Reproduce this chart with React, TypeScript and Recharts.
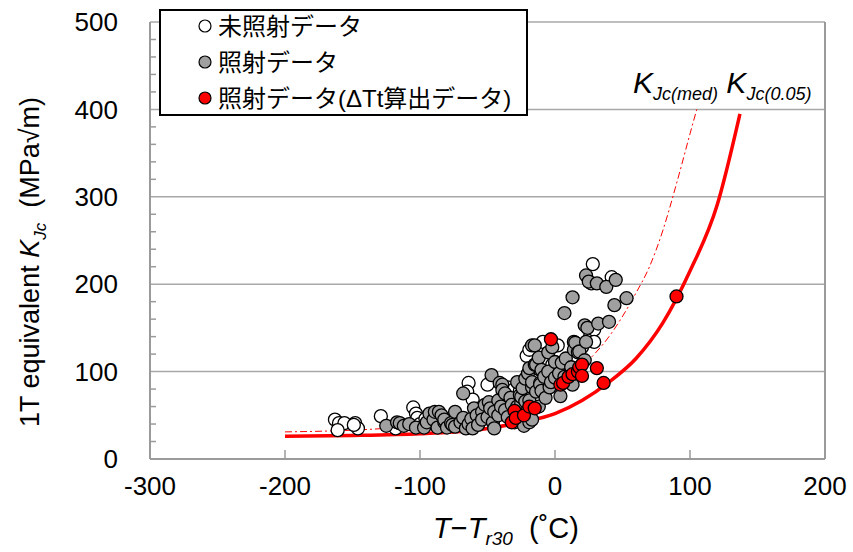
import { ComposedChart, Line, Scatter, XAxis, YAxis, CartesianGrid } from 'recharts'

// 未照射データ
const unirradiated = [
  { x: -163, y: 45 }, { x: -160, y: 41 }, { x: -156, y: 41 }, { x: -161, y: 33 }, { x: -148, y: 41 },
  { x: -146, y: 35 }, { x: -149, y: 39 }, { x: -129, y: 49 }, { x: -118, y: 35 }, { x: -105, y: 59 },
  { x: -103, y: 52 }, { x: -102, y: 47 }, { x: -100, y: 40 }, { x: -96, y: 46 }, { x: -90, y: 40 },
  { x: -78, y: 44 }, { x: -73, y: 50 }, { x: -64, y: 87 }, { x: -65, y: 77 }, { x: -61, y: 68 },
  { x: -56, y: 58 }, { x: -50, y: 85 }, { x: -44, y: 62 }, { x: -35, y: 82 }, { x: -31, y: 79 },
  { x: -26, y: 78 }, { x: -21, y: 118 }, { x: -19, y: 125 }, { x: -13, y: 70 }, { x: -11, y: 102 },
  { x: -9, y: 134 }, { x: -6, y: 95 }, { x: -2, y: 108 }, { x: 2, y: 130 }, { x: 20, y: 128 },
  { x: 26, y: 140 }, { x: 27, y: 201 }, { x: 28, y: 223 }, { x: 29, y: 148 }, { x: 29, y: 134 },
  { x: 42, y: 208 },
]

// 照射データ
const irradiated = [
  { x: -125, y: 38 }, { x: -117, y: 42 }, { x: -115, y: 41 }, { x: -112, y: 38 }, { x: -108, y: 40 },
  { x: -103, y: 36 }, { x: -97, y: 36 }, { x: -95, y: 42 }, { x: -93, y: 52 }, { x: -90, y: 45 },
  { x: -89, y: 54 }, { x: -87, y: 36 }, { x: -86, y: 54 }, { x: -84, y: 50 }, { x: -82, y: 42 },
  { x: -82, y: 45 }, { x: -80, y: 36 }, { x: -77, y: 41 }, { x: -76, y: 39 }, { x: -74, y: 37 },
  { x: -74, y: 54 }, { x: -70, y: 42 }, { x: -68, y: 47 }, { x: -68, y: 75 }, { x: -66, y: 35 },
  { x: -64, y: 40 }, { x: -62, y: 46 }, { x: -61, y: 35 }, { x: -60, y: 58 }, { x: -58, y: 50 },
  { x: -57, y: 39 }, { x: -54, y: 54 }, { x: -54, y: 45 }, { x: -52, y: 62 }, { x: -50, y: 48 },
  { x: -49, y: 65 }, { x: -48, y: 58 }, { x: -47, y: 96 }, { x: -46, y: 42 }, { x: -45, y: 54 },
  { x: -45, y: 35 }, { x: -42, y: 67 }, { x: -42, y: 50 }, { x: -41, y: 87 }, { x: -40, y: 60 },
  { x: -39, y: 85 }, { x: -39, y: 79 }, { x: -37, y: 75 }, { x: -37, y: 56 }, { x: -35, y: 48 },
  { x: -33, y: 70 }, { x: -32, y: 62 }, { x: -30, y: 42 }, { x: -28, y: 60 }, { x: -28, y: 88 },
  { x: -26, y: 73 }, { x: -26, y: 45 }, { x: -25, y: 64 }, { x: -25, y: 71 }, { x: -24, y: 81 },
  { x: -23, y: 38 }, { x: -22, y: 66 }, { x: -22, y: 92 }, { x: -21, y: 54 }, { x: -20, y: 98 },
  { x: -19, y: 42 }, { x: -19, y: 67 }, { x: -19, y: 104 }, { x: -17, y: 130 }, { x: -17, y: 82 },
  { x: -17, y: 88 }, { x: -17, y: 58 }, { x: -17, y: 45 }, { x: -15, y: 108 }, { x: -15, y: 130 },
  { x: -14, y: 108 }, { x: -14, y: 77 }, { x: -12, y: 60 }, { x: -12, y: 116 }, { x: -11, y: 87 },
  { x: -11, y: 85 }, { x: -10, y: 102 }, { x: -10, y: 78 }, { x: -8, y: 94 }, { x: -7, y: 70 },
  { x: -5, y: 122 }, { x: -5, y: 100 }, { x: -4, y: 82 }, { x: -3, y: 88 }, { x: -2, y: 128 },
  { x: 0, y: 111 }, { x: 0, y: 93 }, { x: 3, y: 98 }, { x: 4, y: 72 }, { x: 5, y: 110 },
  { x: 7, y: 94 }, { x: 7, y: 167 }, { x: 8, y: 115 }, { x: 10, y: 90 }, { x: 12, y: 105 },
  { x: 13, y: 185 }, { x: 13, y: 85 }, { x: 14, y: 134 }, { x: 14, y: 125 }, { x: 15, y: 133 },
  { x: 17, y: 122 }, { x: 18, y: 123 }, { x: 22, y: 113 }, { x: 22, y: 153 }, { x: 23, y: 134 },
  { x: 23, y: 210 }, { x: 24, y: 150 }, { x: 25, y: 203 }, { x: 31, y: 201 }, { x: 32, y: 155 },
  { x: 38, y: 197 }, { x: 40, y: 157 }, { x: 44, y: 176 }, { x: 45, y: 205 }, { x: 53, y: 184 },
]

// 照射データ(ΔTt算出データ)
const deltaTt = [
  { x: -32, y: 42 }, { x: -30, y: 55 }, { x: -29, y: 47 }, { x: -23, y: 50 }, { x: -19, y: 60 },
  { x: -15, y: 58 }, { x: -3, y: 137 }, { x: 4, y: 85 }, { x: 6, y: 87 }, { x: 10, y: 94 },
  { x: 13, y: 97 }, { x: 17, y: 100 }, { x: 18, y: 105 }, { x: 20, y: 108 }, { x: 20, y: 95 },
  { x: 31, y: 104 }, { x: 36, y: 87 }, { x: 90, y: 186 },
]

// KJc(med) curve
const medCurve = [
  { x: -200, y: 31 }, { x: -150, y: 33 }, { x: -100, y: 38 }, { x: -75, y: 42 }, { x: -50, y: 50 },
  { x: -25, y: 62 }, { x: 0, y: 82 }, { x: 20, y: 106 }, { x: 40, y: 140 }, { x: 60, y: 190 },
  { x: 70, y: 220 }, { x: 80, y: 262 }, { x: 90, y: 315 }, { x: 100, y: 372 }, { x: 105, y: 400 },
]

// KJc(0.05) curve
const p05Curve = [
  { x: -200, y: 26 }, { x: -150, y: 27 }, { x: -100, y: 29 }, { x: -75, y: 31 }, { x: -50, y: 35 },
  { x: -25, y: 42 }, { x: 0, y: 52 }, { x: 20, y: 67 }, { x: 40, y: 88 }, { x: 60, y: 115 },
  { x: 80, y: 156 }, { x: 100, y: 215 }, { x: 120, y: 290 }, { x: 137, y: 395 },
]

const xTicks = [-300, -200, -100, 0, 100, 200]
const yTicks = [0, 20, 40, 60, 80, 100, 120, 140, 160, 180, 200, 220, 240, 260, 280, 300, 320, 340, 360, 380, 400, 420, 440, 460, 480, 500]

const FONT = "'Liberation Sans', Arial, 'Noto Sans CJK JP', sans-serif"
const AXIS_GRAY = '#9a9a9a'

function dot(fill: string) {
  return (p: any) => <circle cx={p.cx} cy={p.cy} r={6.5} fill={fill} stroke="#000" strokeWidth={1.3} />
}

function XTick({ x, y, payload }: any) {
  return (
    <g>
      <line x1={x} x2={x} y1={y - 19} y2={y - 27} stroke={AXIS_GRAY} strokeWidth={1.5} />
      <text x={x} y={y} dy="0.71em" textAnchor="middle" fontSize={26} fontFamily={FONT} fill="#000">{payload.value}</text>
    </g>
  )
}

function YTick({ x, y, payload }: any) {
  const major = payload.value % 100 === 0
  return (
    <g>
      {payload.value > 0 && payload.value < 500 && !major && (
        <line x1={x + 32} x2={x + 38} y1={y} y2={y} stroke={AXIS_GRAY} strokeWidth={1.5} />
      )}
      {major && (
        <text x={x} y={y} dy="0.355em" textAnchor="end" fontSize={26} fontFamily={FONT} fill="#000">{payload.value}</text>
      )}
    </g>
  )
}

export default function App() {
  return (
    <div style={{ position: 'relative', width: 853, height: 552, background: '#fff' }}>
      <style>{'body{margin:0}'}</style>
      <ComposedChart width={853} height={552} margin={{ top: 22, right: 28, bottom: 0, left: 0 }}>
        <CartesianGrid vertical={false} horizontalValues={[100, 200, 300, 400, 500]} stroke="#a8a8a8" strokeWidth={1.5} />
        <CartesianGrid horizontal={false} verticalValues={[200]} stroke={AXIS_GRAY} strokeWidth={2} />
        <XAxis
          type="number" dataKey="x" domain={[-300, 200]} ticks={xTicks} allowDataOverflow
          height={93} tickSize={0} tickMargin={18} tickLine={false}
          axisLine={{ stroke: AXIS_GRAY, strokeWidth: 2 }} tick={<XTick />}
        />
        <YAxis
          type="number" dataKey="y" domain={[0, 500]} ticks={yTicks} allowDataOverflow interval={0}
          width={150} tickSize={0} tickMargin={32} tickLine={false}
          axisLine={{ stroke: AXIS_GRAY, strokeWidth: 2 }} tick={<YTick />}
        />
        <Line data={medCurve} dataKey="y" type="monotone" stroke="#ff0000" strokeWidth={1} strokeDasharray="7 3 2 3" dot={false} activeDot={false} isAnimationActive={false} />
        <Line data={p05Curve} dataKey="y" type="monotone" stroke="#ff0000" strokeWidth={3.5} dot={false} activeDot={false} isAnimationActive={false} />
        <Scatter data={unirradiated} dataKey="y" shape={dot('#ffffff')} isAnimationActive={false} />
        <Scatter data={irradiated} dataKey="y" shape={dot('#a0a0a0')} isAnimationActive={false} />
        <Scatter data={deltaTt} dataKey="y" shape={dot('#ff0000')} isAnimationActive={false} />
      </ComposedChart>

      <svg width={853} height={552} style={{ position: 'absolute', left: 0, top: 0, pointerEvents: 'none' }} fontFamily={FONT}>
        {/* legend */}
        <rect x={160} y={10} width={367} height={105} fill="#fff" stroke="#000" strokeWidth={2} />
        <circle cx={205} cy={26} r={6} fill="#fff" stroke="#000" strokeWidth={1.2} />
        <circle cx={205} cy={62} r={6} fill="#a0a0a0" stroke="#000" strokeWidth={1.2} />
        <circle cx={205} cy={98} r={6} fill="#ff0000" stroke="#000" strokeWidth={1.2} />
        <text x={218} y={26} dy="0.36em" fontSize={24}>未照射データ</text>
        <text x={218} y={62} dy="0.36em" fontSize={24}>照射データ</text>
        <text x={218} y={98} dy="0.36em" fontSize={24}>照射データ(ΔTt算出データ)</text>

        {/* curve labels */}
        <text x={633} y={93} fontSize={30} fontStyle="italic" style={{ whiteSpace: 'pre' }}>
          K<tspan fontSize={18} dy={7}>Jc(med)</tspan><tspan dy={-7}> K</tspan><tspan fontSize={18} dy={7}>Jc(0.05)</tspan>
        </text>

        {/* y label */}
        <text transform="translate(39,262) rotate(-90)" textAnchor="middle" fontSize={27} style={{ whiteSpace: 'pre' }}>
          1T equivalent <tspan fontStyle="italic">K</tspan><tspan fontSize={17} dy={7} fontStyle="italic">Jc</tspan><tspan dy={-7}>  (MPa√m)</tspan>
        </text>

        {/* x label */}
        <text x={506} y={538} textAnchor="middle" fontSize={29} style={{ whiteSpace: 'pre' }}>
          <tspan fontStyle="italic">T</tspan>−<tspan fontStyle="italic">T</tspan><tspan fontSize={19} dy={7} fontStyle="italic">r30</tspan><tspan dy={-7}>  (˚C)</tspan>
        </text>
      </svg>
    </div>
  )
}
